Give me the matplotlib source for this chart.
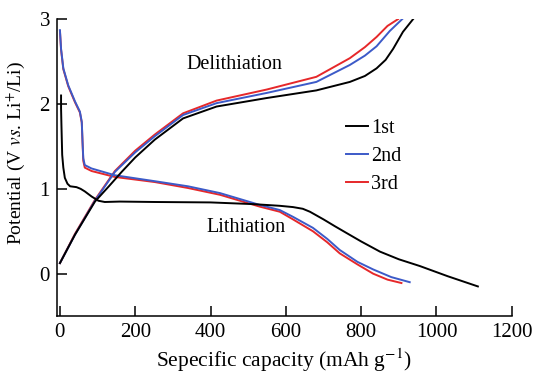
import matplotlib.pyplot as plt
import numpy as np

# Use a Times-like serif font for everything
plt.rcParams['font.family'] = ['Liberation Serif', 'DejaVu Serif']
plt.rcParams['mathtext.fontset'] = 'stix'
plt.rcParams['font.size'] = 15

# Cycle labels and colours
labels = ["1st", "2nd", "3rd"]
colors = ["black", "#3c5ac8", "#e6282a"]

# Lithiation (discharge) curves: capacity (mAh/g) and potential (V)
lith1_x = [3, 3, 4, 6, 9, 13, 20, 27, 44, 55, 66, 84, 102, 119, 159, 252, 400, 513,
           584, 619, 645, 664, 700, 730, 761, 800, 850, 900, 956, 1030, 1110]
lith1_y = [2.10, 1.95, 1.75, 1.40, 1.25, 1.13, 1.06, 1.03, 1.02, 1.00, 0.97, 0.91,
           0.86, 0.845, 0.85, 0.845, 0.84, 0.82, 0.80, 0.785, 0.765, 0.73, 0.64, 0.56,
           0.48, 0.38, 0.26, 0.17, 0.09, -0.03, -0.15]

lith2_x = [0, 3, 9, 22, 40, 53, 58, 60, 62, 66, 84, 146, 252, 340, 425, 531, 584,
           619, 672, 710, 743, 790, 832, 880, 929]
lith2_y = [2.87, 2.65, 2.42, 2.22, 2.03, 1.91, 1.79, 1.56, 1.36, 1.28, 1.24, 1.16,
           1.09, 1.03, 0.95, 0.81, 0.75, 0.67, 0.54, 0.41, 0.28, 0.14, 0.05, -0.04, -0.10]

lith3_x = [0, 3, 9, 22, 40, 53, 58, 60, 62, 66, 84, 146, 252, 340, 425, 531, 584,
           619, 672, 710, 743, 790, 832, 870, 907]
lith3_y = [2.86, 2.64, 2.41, 2.21, 2.02, 1.90, 1.78, 1.55, 1.33, 1.25, 1.21, 1.14,
           1.08, 1.01, 0.93, 0.79, 0.73, 0.64, 0.50, 0.37, 0.24, 0.11, 0.00, -0.07, -0.11]

# Delithiation (charge) curves
delith1_x = [0, 40, 93, 130, 164, 200, 252, 327, 416, 549, 681, 770, 810, 841, 865,
             885, 911, 938]
delith1_y = [0.125, 0.46, 0.85, 1.03, 1.20, 1.37, 1.58, 1.83, 1.97, 2.07, 2.16, 2.26,
             2.33, 2.42, 2.52, 2.65, 2.85, 3.00]

delith2_x = [0, 40, 93, 146, 200, 252, 327, 416, 549, 681, 770, 810, 841, 876, 909]
delith2_y = [0.125, 0.46, 0.86, 1.20, 1.43, 1.62, 1.87, 2.01, 2.13, 2.26, 2.46, 2.57,
             2.68, 2.86, 3.00]

delith3_x = [0, 40, 93, 146, 200, 252, 327, 416, 549, 681, 770, 810, 841, 870, 898]
delith3_y = [0.125, 0.47, 0.87, 1.21, 1.45, 1.64, 1.89, 2.04, 2.17, 2.32, 2.54, 2.67,
             2.79, 2.92, 3.00]

lith = [(lith1_x, lith1_y), (lith2_x, lith2_y), (lith3_x, lith3_y)]
delith = [(delith1_x, delith1_y), (delith2_x, delith2_y), (delith3_x, delith3_y)]
zorders = [2.2, 2.1, 2.0]

fig = plt.figure(figsize=(5.37, 3.75), dpi=100)
ax = fig.add_axes([0.106, 0.157, 0.847, 0.792])

# Draw each cycle, lithiation then delithiation
for i in range(3):
    ax.plot(lith[i][0], lith[i][1], color=colors[i], lw=1.4, label=labels[i],
            zorder=zorders[i])
    ax.plot(delith[i][0], delith[i][1], color=colors[i], lw=1.4, zorder=zorders[i])

# Axes limits and ticks
ax.set_xlim(-8, 1200)
ax.set_ylim(-0.5, 3)
ax.set_xticks([0, 200, 400, 600, 800, 1000, 1200])
ax.set_yticks([0, 1, 2, 3])
ax.tick_params(direction='in', length=7, width=1.1, pad=5, labelsize=15)

# Only left and bottom spines
ax.spines['top'].set_visible(False)
ax.spines['right'].set_visible(False)
ax.spines['left'].set_linewidth(1.1)
ax.spines['bottom'].set_linewidth(1.1)

# Labels
ax.set_xlabel(r'Sepecific capacity (mAh g$^{-1}$)', fontsize=15.5, labelpad=3)
ax.set_ylabel(r'Potential (V $\mathit{vs}$. Li$^{+}$/Li)', fontsize=14)
ax.yaxis.set_label_coords(-0.066, 0.55)

# Annotations
ax.text(462, 2.46, "Delithiation", ha='center', va='center', fontsize=14.5)
ax.text(494, 0.54, "Lithiation", ha='center', va='center', fontsize=14.5)

# Legend
ax.legend(loc='upper left', bbox_to_anchor=(0.635, 0.665), frameon=False, fontsize=14.5,
          handlelength=1.1, handletextpad=0.15, labelspacing=0.45, borderpad=0,
          borderaxespad=0)

fig.savefig("out.png", dpi=100)
